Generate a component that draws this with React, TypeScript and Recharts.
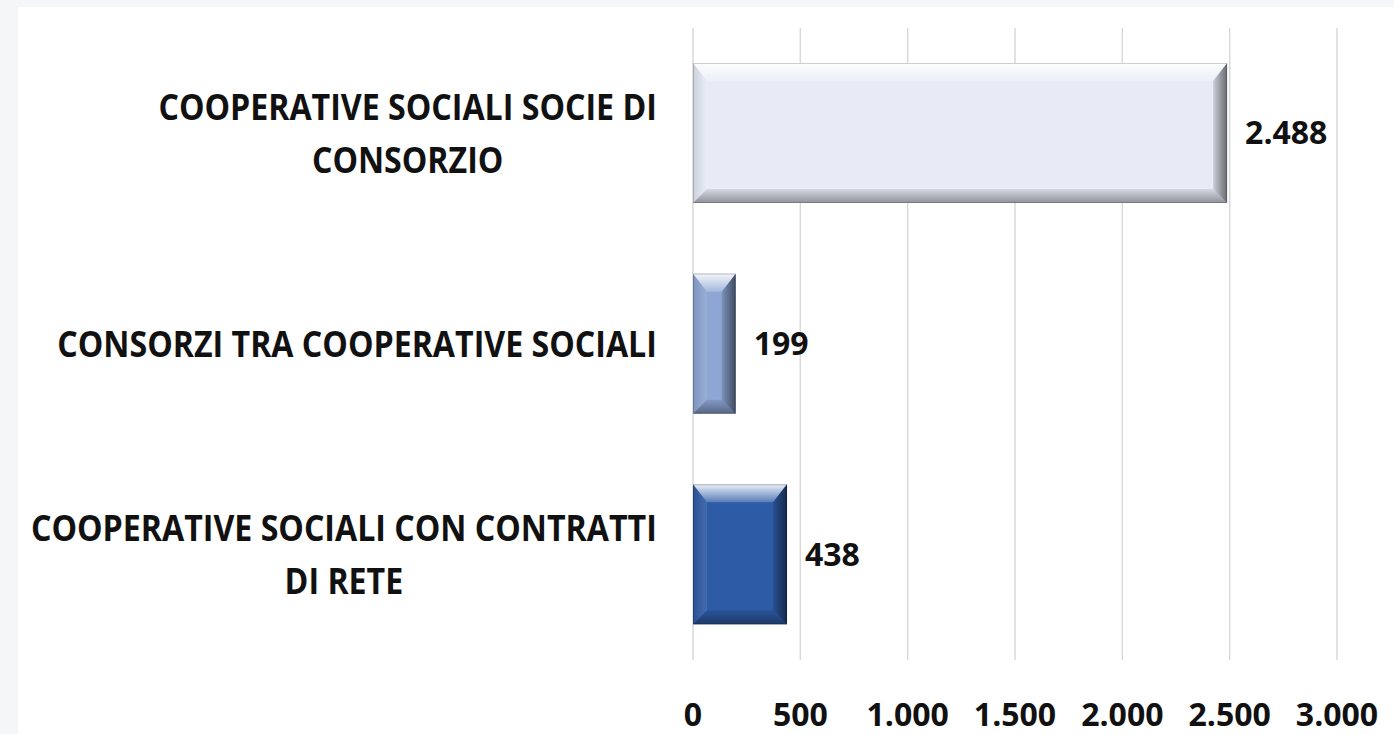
import React from 'react';
import { BarChart, Bar, XAxis, YAxis, CartesianGrid, Cell, LabelList } from 'recharts';

const categories = [
  'COOPERATIVE SOCIALI SOCIE DI CONSORZIO',
  'CONSORZI TRA COOPERATIVE SOCIALI',
  'COOPERATIVE SOCIALI CON CONTRATTI DI RETE',
];
const values = [2488, 199, 438];
const categoryLines = [
  ['COOPERATIVE SOCIALI SOCIE DI', 'CONSORZIO'],
  ['CONSORZI TRA COOPERATIVE SOCIALI'],
  ['COOPERATIVE SOCIALI CON CONTRATTI', 'DI RETE'],
];
const xTicks = [0, 500, 1000, 1500, 2000, 2500, 3000];

const barColors = ['#e6ebf6', '#8da6d4', '#2e5ba6'];

const data = categories.map((c, i) => ({ name: c, value: values[i] }));

const FONT = "'Open Sans', 'DejaVu Sans', sans-serif";
const LABEL_SIZE = 36;
const LABEL_SCALE_X = 0.893;
const NUM_SIZE = 32;

const fmt = (v: number) => String(v).replace(/\B(?=(\d{3})+(?!\d))/g, '.');

let ctx: CanvasRenderingContext2D | null = null;
const measure = (text: string) => {
  if (!ctx && typeof document !== 'undefined') {
    ctx = document.createElement('canvas').getContext('2d');
  }
  if (!ctx) return text.length * LABEL_SIZE * 0.6;
  ctx.font = `bold ${LABEL_SIZE}px 'Open Sans'`;
  return ctx.measureText(text).width;
};

const CategoryTick = (props: any) => {
  const { x, y, payload } = props;
  const idx = categories.indexOf(payload.value);
  const lines = idx >= 0 ? categoryLines[idx] : [String(payload.value)];
  const widths = lines.map((l) => measure(l) * LABEL_SCALE_X);
  const maxW = Math.max(...widths);
  const cx = x - maxW / 2;
  const lineH = 53;
  const capHalf = (LABEL_SIZE * 0.714) / 2;
  return (
    <g>
      {lines.map((l, i) => {
        const center = y + (i - (lines.length - 1) / 2) * lineH;
        return (
          <text
            key={i}
            transform={`translate(${cx},${center + capHalf}) scale(${LABEL_SCALE_X},1)`}
            textAnchor="middle"
            fontFamily={FONT}
            fontWeight={700}
            fontSize={LABEL_SIZE}
            fill="#111"
          >
            {l}
          </text>
        );
      })}
    </g>
  );
};

const NumberTick = (props: any) => {
  const { x, y, payload } = props;
  return (
    <text
      x={x}
      y={y + 55 + (NUM_SIZE * 0.714) / 2}
      textAnchor="middle"
      fontFamily={FONT}
      fontWeight={700}
      fontSize={NUM_SIZE}
      fill="#111"
    >
      {fmt(payload.value)}
    </text>
  );
};

const ValueLabel = (props: any) => {
  const vb = props.viewBox || {};
  const x = props.x ?? vb.x;
  const y = props.y ?? vb.y;
  const width = props.width ?? vb.width;
  const height = props.height ?? vb.height;
  return (
    <text
      x={x + width + 18}
      y={y + height / 2 + (NUM_SIZE * 0.714) / 2}
      textAnchor="start"
      fontFamily={FONT}
      fontWeight={700}
      fontSize={NUM_SIZE}
      fill="#111"
    >
      {fmt(Number(props.value))}
    </text>
  );
};

const BevelBar = (props: any) => {
  const { x, y, width: w, height: h, fill } = props;
  if (!w || !h) return null;
  const b = Math.min(14, w / 2, h / 2);
  const pts = (arr: number[][]) => arr.map((p) => p.join(',')).join(' ');
  return (
    <g>
      <rect x={x} y={y} width={w} height={h} fill={fill} />
      <polygon
        points={pts([[x, y], [x + w, y], [x + w - b, y + b + 4], [x + b, y + b + 4]])}
        fill="url(#bevTop)"
      />
      <polygon
        points={pts([[x, y], [x + b, y + b + 4], [x + b, y + h - b], [x, y + h]])}
        fill="url(#bevLeft)"
      />
      <polygon
        points={pts([[x, y + h], [x + w, y + h], [x + w - b, y + h - b], [x + b, y + h - b]])}
        fill="url(#bevBottom)"
      />
      <polygon
        points={pts([[x + w, y], [x + w - b, y + b + 4], [x + w - b, y + h - b], [x + w, y + h]])}
        fill="url(#bevRight)"
      />
      <rect x={x + 0.5} y={y + 0.5} width={w - 1} height={h - 1} fill="none" stroke="#000" strokeOpacity={0.18} />
    </g>
  );
};

export default function App() {
  return (
    <div
      style={{
        position: 'absolute',
        left: 0,
        top: 0,
        width: 1394,
        height: 734,
        background: '#f5f6f8',
        overflow: 'hidden',
      }}
    >
      <div style={{ position: 'absolute', left: 18, top: 7, width: 1376, height: 727, background: '#ffffff' }} />
      <div style={{ position: 'absolute', left: 0, top: 0 }}>
        <BarChart
          width={1394}
          height={734}
          data={data}
          layout="vertical"
          margin={{ top: 28, right: 57, bottom: 0, left: 0 }}
        >
          <defs>
            <linearGradient id="bevTop" x1="0" y1="0" x2="0" y2="1">
              <stop offset="0%" stopColor="#fff" stopOpacity={0.9} />
              <stop offset="100%" stopColor="#fff" stopOpacity={0.2} />
            </linearGradient>
            <linearGradient id="bevLeft" x1="0" y1="0" x2="1" y2="0">
              <stop offset="0%" stopColor="#000" stopOpacity={0.12} />
              <stop offset="100%" stopColor="#fff" stopOpacity={0.1} />
            </linearGradient>
            <linearGradient id="bevBottom" x1="0" y1="0" x2="0" y2="1">
              <stop offset="0%" stopColor="#000" stopOpacity={0.08} />
              <stop offset="100%" stopColor="#000" stopOpacity={0.38} />
            </linearGradient>
            <linearGradient id="bevRight" x1="0" y1="0" x2="1" y2="0">
              <stop offset="0%" stopColor="#000" stopOpacity={0.12} />
              <stop offset="100%" stopColor="#000" stopOpacity={0.55} />
            </linearGradient>
          </defs>
          <CartesianGrid horizontal={false} stroke="#d9d9d9" strokeWidth={1.5} />
          <XAxis
            type="number"
            domain={[0, 3000]}
            ticks={xTicks}
            axisLine={false}
            tickLine={false}
            tickSize={0}
            tickMargin={0}
            height={74}
            interval={0}
            tick={<NumberTick />}
          />
          <YAxis
            type="category"
            dataKey="name"
            width={693}
            axisLine={false}
            tickLine={false}
            tickSize={0}
            tickMargin={36}
            interval={0}
            tick={<CategoryTick />}
          />
          <Bar dataKey="value" barSize={140} shape={<BevelBar />} isAnimationActive={false}>
            {data.map((d, i) => (
              <Cell key={d.name} fill={barColors[i]} />
            ))}
            <LabelList dataKey="value" content={<ValueLabel />} />
          </Bar>
        </BarChart>
      </div>
    </div>
  );
}
